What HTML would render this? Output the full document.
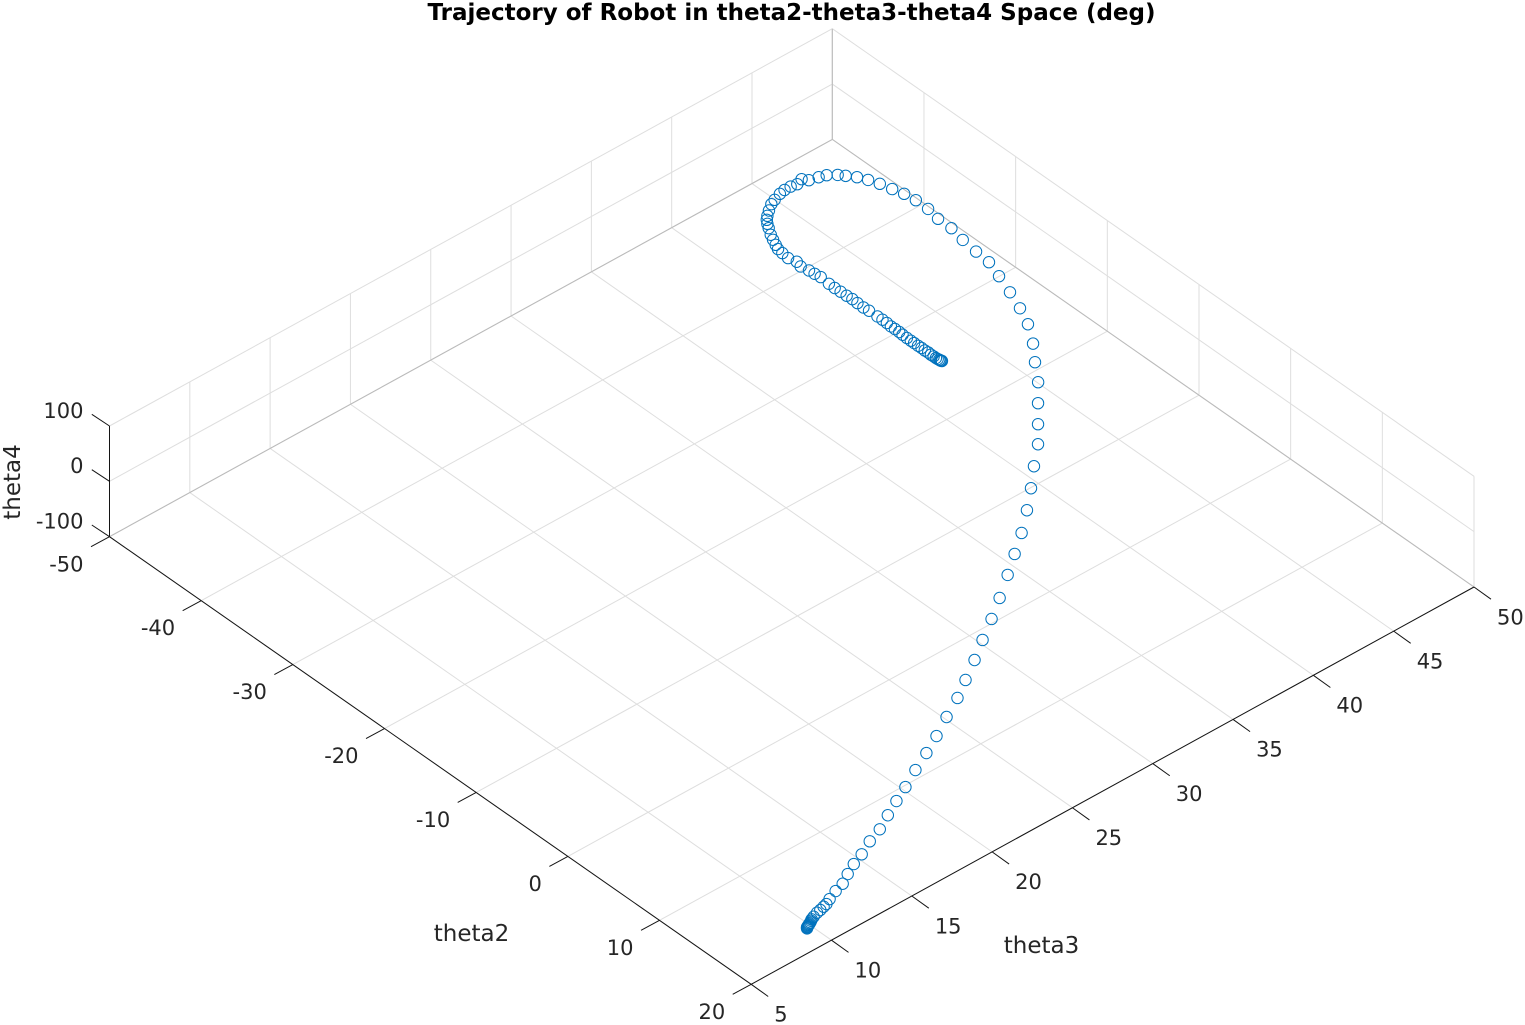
<!DOCTYPE html>
<html lang="en">
<head>
<meta charset="utf-8">
<title>Trajectory of Robot</title>
<style>
html,body{margin:0;padding:0;background:#fff;width:1525px;height:1025px;overflow:hidden}
svg{display:block}
text{font-family:"DejaVu Sans","Liberation Sans",sans-serif;fill:#262626}
</style>
</head>
<body>
<svg id="chart" xmlns="http://www.w3.org/2000/svg" width="1525" height="1025" viewBox="0 0 1525 1025">
<rect x="0" y="0" width="1525" height="1025" fill="#fff"/>
<g id="grid"></g>
<g id="axes"></g>
<g id="series"></g>
<text x="791.5" y="20" text-anchor="middle" font-size="23" font-weight="700" style="fill:#000">Trajectory of Robot in theta2-theta3-theta4 Space (deg)</text>
<text x="471.5" y="941" text-anchor="middle" font-size="23">theta2</text>
<text x="1041.5" y="953" text-anchor="middle" font-size="23">theta3</text>
<text transform="translate(20 482) rotate(-90)" text-anchor="middle" font-size="23">theta4</text>
</svg>
<script>
const theta2Ticks = [-50, -40, -30, -20, -10, 0, 10, 20];
const theta3Ticks = [5, 10, 15, 20, 25, 30, 35, 40, 45, 50];
const theta4Ticks = [-100, 0, 100];

const theta2Values = [
19.73,19.64,19.60,19.57,19.52,19.47,19.41,19.36,19.26,19.16,19.03,18.84,18.76,18.63,18.53,18.25,17.84,17.54,16.93,16.35,15.88,15.13,14.56,13.72,12.89,
12.10,11.09,10.13,9.13,7.95,6.81,5.62,4.31,2.94,1.54,0.09,-1.54,-3.04,-4.54,-6.27,-8.00,-9.78,-11.51,-13.26,-15.10,
-16.93,-18.83,-20.55,-22.49,-24.27,-26.15,-28.08,-29.79,-31.34,-33.00,-34.57,-36.03,-37.38,-38.73,-39.85,-40.84,-41.89,-42.80,-43.57,-44.23,
-44.70,-45.20,-45.41,-45.62,-46.06,-45.83,-45.94,-45.94,-45.82,-45.55,-45.33,-44.89,-44.50,-44.18,-43.80,-43.36,-42.68,-42.13,-41.56,-41.08,
-40.52,-39.81,-39.07,-38.47,-37.72,-37.16,-36.58,-35.60,-34.95,-34.34,-33.70,-33.13,-32.54,-31.87,-31.31,-30.41,
-29.88,-29.38,-28.89,-28.47,-28.00,-27.60,-27.11,-26.68,-26.32,-25.89,-25.53,-25.16,-24.82,-24.49,-24.21,-23.96,-23.79,-23.65,-23.54,-23.47,-23.41
];
const theta3Values = [
8.63,8.68,8.73,8.78,8.84,8.90,8.97,9.05,9.15,9.24,9.44,9.76,10.01,10.29,10.52,10.88,11.49,12.10,12.76,13.47,14.23,15.16,16.11,17.09,18.10,
19.11,20.31,21.54,22.74,24.04,25.37,26.55,27.86,29.14,30.50,31.83,33.26,34.55,35.84,37.16,38.40,39.60,40.84,41.84,42.89,
43.94,44.83,45.69,46.48,47.00,47.45,47.87,48.22,48.30,48.42,48.61,48.61,48.76,48.77,48.68,48.50,48.33,48.12,47.87,47.54,
47.31,46.91,46.53,46.04,45.84,45.44,45.09,44.71,44.35,43.87,43.54,43.14,42.82,42.60,42.42,42.25,41.99,41.82,41.66,41.53,
41.48,41.43,41.55,41.45,41.54,41.57,41.62,41.57,41.56,41.58,41.59,41.62,41.60,41.59,41.62,41.63,
41.64,41.63,41.60,41.61,41.61,41.59,41.58,41.58,41.58,41.58,41.59,41.58,41.60,41.58,41.59,41.59,41.60,41.62,41.62,41.64,41.65
];
// theta4 cannot be separated from the other two in this single view; -60 is an estimate that keeps the path inside the box.
const theta4Values = [
-60,-60,-60,-60,-60,-60,-60,-60,-60,-60,-60,-60,-60,-60,-60,-60,-60,-60,-60,-60,-60,-60,-60,-60,-60,
-60,-60,-60,-60,-60,-60,-60,-60,-60,-60,-60,-60,-60,-60,-60,-60,-60,-60,-60,-60,
-60,-60,-60,-60,-60,-60,-60,-60,-60,-60,-60,-60,-60,-60,-60,-60,-60,-60,-60,-60,
-60,-60,-60,-60,-60,-60,-60,-60,-60,-60,-60,-60,-60,-60,-60,-60,-60,-60,-60,-60,
-60,-60,-60,-60,-60,-60,-60,-60,-60,-60,-60,-60,-60,-60,-60,-60,-60,-60,-60,-60,-60,
-60,-60,-60,-60,-60,-60,-60,-60,-60,-60,-60,-60,-60,-60,-60,-60,-60,-60,-60,-60,-60
];

const T2_MIN = theta2Ticks[0], T2_MAX = theta2Ticks[theta2Ticks.length - 1];
const T3_MIN = theta3Ticks[0], T3_MAX = theta3Ticks[theta3Ticks.length - 1];
const T4_MIN = theta4Ticks[0], T4_MAX = theta4Ticks[theta4Ticks.length - 1];

function project(t2, t3, t4) {
  const u = (t2 - T2_MIN) / (T2_MAX - T2_MIN);
  const v = (t3 - T3_MIN) / (T3_MAX - T3_MIN);
  const w = (t4 - T4_MIN) / (T4_MAX - T4_MIN);
  return {
    x: 109.5 + 641.7 * u + 722.8 * v,
    y: 536.7 + 447.6 * u - 397.3 * v - 110.7 * w
  };
}

const NS = 'http://www.w3.org/2000/svg';
const gridG = document.getElementById('grid');
const axesG = document.getElementById('axes');
const seriesG = document.getElementById('series');

function makeLine(parent, a, b, color) {
  const l = document.createElementNS(NS, 'line');
  l.setAttribute('x1', a.x.toFixed(2));
  l.setAttribute('y1', a.y.toFixed(2));
  l.setAttribute('x2', b.x.toFixed(2));
  l.setAttribute('y2', b.y.toFixed(2));
  l.setAttribute('stroke', color);
  l.setAttribute('stroke-width', '1');
  parent.appendChild(l);
  return l;
}
function makeText(parent, x, y, anchor, str) {
  const t = document.createElementNS(NS, 'text');
  t.setAttribute('x', x.toFixed(2));
  t.setAttribute('y', y.toFixed(2));
  t.setAttribute('text-anchor', anchor);
  t.setAttribute('font-size', '21');
  t.textContent = str;
  parent.appendChild(t);
  return t;
}

const GRID = '#dedede';
const EDGE = '#bababa';

// floor grid lines and theta2 wall
theta2Ticks.forEach(function (t2) {
  const floorLine = makeLine(gridG, project(t2, T3_MIN, T4_MIN), project(t2, T3_MAX, T4_MIN), GRID);
  
  
  const wallLine = makeLine(gridG, project(t2, T3_MAX, T4_MIN), project(t2, T3_MAX, T4_MAX), GRID);
  
  
});
theta3Ticks.forEach(function (t3) {
  const floorLine = makeLine(gridG, project(T2_MIN, t3, T4_MIN), project(T2_MAX, t3, T4_MIN), GRID);
  
  
  const wallLine = makeLine(gridG, project(T2_MIN, t3, T4_MIN), project(T2_MIN, t3, T4_MAX), GRID);
  
  
});
theta4Ticks.forEach(function (t4) {
  const leftLine = makeLine(gridG, project(T2_MIN, T3_MIN, t4), project(T2_MIN, T3_MAX, t4), GRID);
  
  
  const rightLine = makeLine(gridG, project(T2_MIN, T3_MAX, t4), project(T2_MAX, T3_MAX, t4), GRID);
  
  
});

// darker back box edges
const edgeA = makeLine(gridG, project(T2_MIN, T3_MIN, T4_MIN), project(T2_MIN, T3_MAX, T4_MIN), EDGE);


const edgeB = makeLine(gridG, project(T2_MIN, T3_MAX, T4_MIN), project(T2_MAX, T3_MAX, T4_MIN), EDGE);


const edgeC = makeLine(gridG, project(T2_MIN, T3_MAX, T4_MIN), project(T2_MIN, T3_MAX, T4_MAX), EDGE);



// axes
const AXIS = '#141414';
const t2Axis = makeLine(axesG, project(T2_MIN, T3_MIN, T4_MIN), project(T2_MAX, T3_MIN, T4_MIN), AXIS);


const t3Axis = makeLine(axesG, project(T2_MAX, T3_MIN, T4_MIN), project(T2_MAX, T3_MAX, T4_MIN), AXIS);


const t4Axis = makeLine(axesG, project(T2_MIN, T3_MIN, T4_MIN), project(T2_MIN, T3_MIN, T4_MAX), AXIS);



theta2Ticks.forEach(function (t2) {
  const p = project(t2, T3_MIN, T4_MIN);
  const tick = makeLine(axesG, p, {x: p.x - 18.5, y: p.y + 10}, AXIS);
  
  
  const label = makeText(axesG, p.x - 26, p.y + 34.6, 'end', String(t2));
  
  
});
theta3Ticks.forEach(function (t3) {
  const p = project(T2_MAX, t3, T4_MIN);
  const tick = makeLine(axesG, p, {x: p.x + 17, y: p.y + 12.2}, AXIS);
  
  
  const label = makeText(axesG, p.x + 23, p.y + 37.3, 'start', String(t3));
  
  
});
theta4Ticks.forEach(function (t4) {
  const p = project(T2_MIN, T3_MIN, t4);
  const tick = makeLine(axesG, p, {x: p.x - 17.7, y: p.y - 11.7}, AXIS);
  
  
  const label = makeText(axesG, p.x - 26, p.y - 8.2, 'end', String(t4));
  
  
});

// series markers
theta2Values.forEach(function (t2, i) {
  const p = project(t2, theta3Values[i], theta4Values[i]);
  const c = document.createElementNS(NS, 'circle');
  c.setAttribute('cx', p.x.toFixed(2));
  c.setAttribute('cy', p.y.toFixed(2));
  c.setAttribute('r', '5.7');
  c.setAttribute('fill', 'none');
  c.setAttribute('stroke', '#0072BD');
  c.setAttribute('stroke-width', '1');
  
  
  seriesG.appendChild(c);
});
</script>
</body>
</html>
